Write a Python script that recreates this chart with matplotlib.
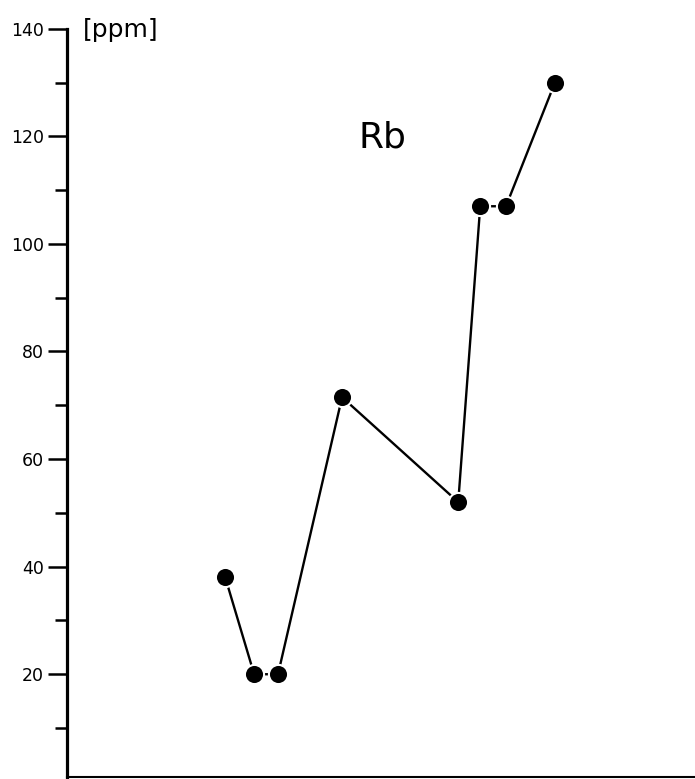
import matplotlib
matplotlib.use("Agg")
import matplotlib.pyplot as plt
from matplotlib.ticker import MultipleLocator

# sample positions along the (unlabelled) horizontal axis and Rb contents
sample_pos = [25.2, 29.8, 33.6, 43.8, 62.3, 65.8, 69.9, 77.7]
rb_ppm = [38, 20, 20, 71.5, 52, 107, 107, 130]

y_ticks = [20, 40, 60, 80, 100, 120, 140]

fig = plt.figure(figsize=(6.95, 7.79), dpi=100)
ax = fig.add_axes([67 / 695, 0.0026, 1 - 67 / 695, 0.9605])

ax.plot(sample_pos, rb_ppm, color="black", lw=1.7, marker="o",
        ms=13.8, mfc="black", mec="white", mew=1.5, solid_capstyle="butt")

ax.set_xlim(0, 100)
ax.set_ylim(0.9, 140)
ax.set_xticks([])
ax.set_yticks(y_ticks)
ax.yaxis.set_minor_locator(MultipleLocator(10))
ax.tick_params(axis="y", which="major", length=13.5, width=1.8, pad=3,
               labelsize=12.5, direction="out")
ax.tick_params(axis="y", which="minor", length=8.5, width=1.8, direction="out")

for side in ["top", "right"]:
    ax.spines[side].set_visible(False)
ax.spines["left"].set_linewidth(2.3)
ax.spines["bottom"].set_linewidth(1.5)

ax.text(0.503, 0.855, "Rb", transform=ax.transAxes, fontsize=26,
        ha="center", va="center")
fig.text(121 / 695, 1 - 30 / 779, "[ppm]", fontsize=18, ha="center", va="center")

fig.savefig("out.png", dpi=100)
